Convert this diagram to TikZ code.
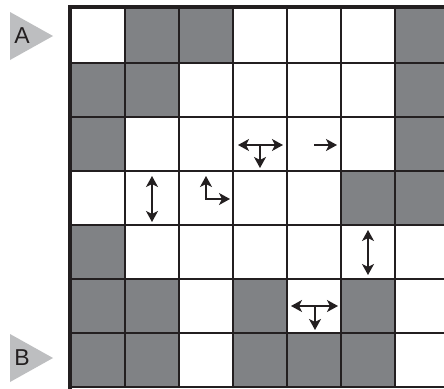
\documentclass[tikz,border=0pt]{standalone}
\usepackage{fontspec}
\setmainfont{Liberation Sans}
\usetikzlibrary{arrows.meta}
\definecolor{cellgray}{RGB}{128,130,133}
\definecolor{markgray}{RGB}{189,190,192}
\definecolor{ink}{RGB}{35,31,32}
\tikzset{
  gridline/.style={draw=ink, line width=1.3pt},
  border/.style={draw=ink, line width=4pt},
  arr/.style={draw=ink, line width=1.4pt, -{Stealth[length=11pt,width=12pt,inset=3pt]}},
  darr/.style={draw=ink, line width=1.4pt, {Stealth[length=11pt,width=12pt,inset=3pt]}-{Stealth[length=11pt,width=12pt,inset=3pt]}},
  marker/.style={fill=markgray, draw=none},
  lbl/.style={text=ink, font=\fontsize{23}{23}\selectfont, inner sep=0pt}
}
\begin{document}
\begin{tikzpicture}[x=1pt,y=-1pt]
\useasboundingbox (0,0) rectangle (444,388);
\clip (0,0) rectangle (444,388);
\fill[white] (0,0) rectangle (444,388);
% gray cells
\foreach \r/\c in {1/2,1/3,1/7,2/1,2/2,2/7,3/1,3/7,4/6,4/7,5/1,6/1,6/2,6/4,6/6,7/1,7/2,7/4,7/5,7/6}{
  \fill[cellgray] ({71+54*(\c-1)},{9+54*(\r-1)}) rectangle ++(54,54);
}
% grid lines
\foreach \i in {1,...,7}{
  \draw[gridline] ({71+54*\i},9) -- ({71+54*\i},387);
  \draw[gridline] (71,{9+54*\i}) -- (449,{9+54*\i});
}
% thick border
\draw[border] (70,389) -- (70,7) -- (450,7);
% markers
\fill[marker] (10,12) -- (53,36) -- (10,60) -- cycle;
\node[lbl] (A) at (22,36) {A};
\fill[marker] (10,334) -- (53,358) -- (10,382) -- cycle;
\node[lbl] (B) at (22,358) {B};
% arrows
\coordinate (t1) at (260,145);
\draw[darr] (238,145) -- (283,145);
\draw[arr] (t1) -- (260,168);
\draw[arr] (314,145) -- (337,145);
\draw[darr] (152,176) -- (152,222);
\draw[darr] (206,176) -- (206,199) -- (230,199);
\draw[darr] (368,230) -- (368,275);
\coordinate (t2) at (315,306);
\draw[darr] (291,306) -- (338,306);
\draw[arr] (t2) -- (315,330);
\end{tikzpicture}
\end{document}
